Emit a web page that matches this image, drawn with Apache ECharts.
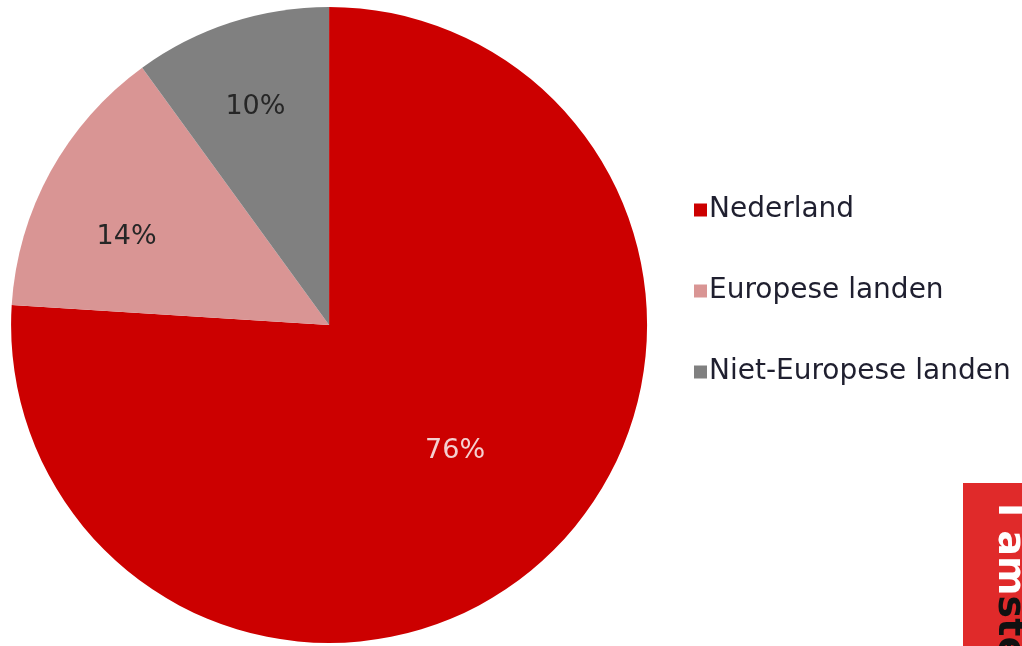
<!DOCTYPE html>
<html>
<head>
<meta charset="utf-8">
<script src="https://cdn.jsdelivr.net/npm/echarts@6/dist/echarts.min.js"></script>
<style>
html,body{margin:0;padding:0;background:#fff;}
#chart{width:1022px;height:646px;}
</style>
</head>
<body>
<div id="chart"></div>
<script>
const categories = ['Nederland', 'Europese landen', 'Niet-Europese landen'];
const values = [76, 14, 10];
const colors = ['#cc0000', '#d99594', '#808080'];
const labelColors = ['#f4d0d0', '#262626', '#262626'];

const FONT = 'DejaVu Sans, Verdana, sans-serif';
const chart = echarts.init(document.getElementById('chart'), null, {renderer: 'canvas'});

const labelOffsets = [[2, -6], [-2, 22], [-3, 0]];
const baseData = categories.map((c, i) => ({name: c, value: values[i], itemStyle: {color: colors[i]}}));
function labelData(showIdx) {
  return categories.map((c, i) => ({
    name: c, value: values[i],
    itemStyle: {color: 'rgba(0,0,0,0)'},
    label: {show: showIdx.includes(i), color: labelColors[i], offset: labelOffsets[i]}
  }));
}
const center = ['32.2%', '50.3%'];
const R = 318;

chart.setOption({
  animation: false,
  legend: {
    orient: 'vertical',
    left: 689,
    top: 191,
    itemWidth: 13,
    itemHeight: 13,
    itemGap: 53,
    icon: 'rect',
    textStyle: {fontFamily: FONT, fontSize: 28, color: '#1f1f2f', padding: [0, 0, 0, -3]},
    data: categories
  },
  series: [
    {
      type: 'pie', center: center, radius: [0, R],
      startAngle: 90, clockwise: true,
      label: {show: false}, labelLine: {show: false},
      emphasis: {disabled: true},
      data: baseData
    },
    {
      type: 'pie', center: center, radius: [R * 0.42, R],
      startAngle: 90, clockwise: true, silent: true,
      label: {position: 'inside', fontFamily: FONT, fontSize: 27, formatter: '{c}%'},
      labelLine: {show: false},
      emphasis: {disabled: true},
      legendHoverLink: false,
      data: labelData([1, 2])
    },
    {
      type: 'pie', center: center, radius: [R * 0.12, R],
      startAngle: 90, clockwise: true, silent: true,
      label: {position: 'inside', fontFamily: FONT, fontSize: 27, formatter: '{c}%'},
      labelLine: {show: false},
      emphasis: {disabled: true},
      legendHoverLink: false,
      data: labelData([0])
    }
  ],
  graphic: [
    {
      type: 'rect', left: 963, top: 483,
      shape: {width: 70, height: 170},
      style: {fill: '#e02a2a'}
    },
    {
      type: 'text', x: 1009, y: 503, rotation: -Math.PI / 2,
      style: {
        text: '{w|I am}{b|sterdam}',
        verticalAlign: 'middle', align: 'left',
        rich: {
          w: {fill: '#ffffff', fontFamily: FONT, fontWeight: 'bold', fontSize: 38},
          b: {fill: '#111111', fontFamily: FONT, fontWeight: 'bold', fontSize: 38}
        }
      }
    }
  ]
});
</script>
</body>
</html>
